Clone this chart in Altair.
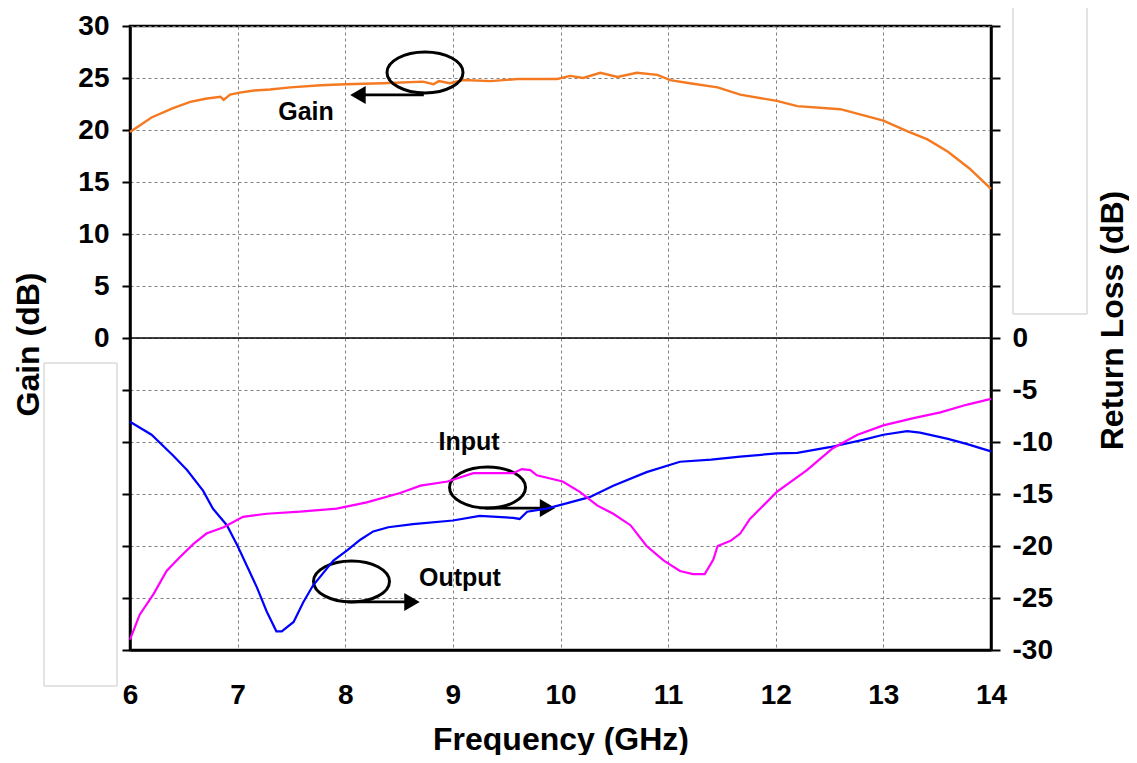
import altair as alt
import pandas as pd

# ---- data ----
gain_f = [6.0, 6.2, 6.4, 6.56, 6.7, 6.84, 6.87, 6.93, 7.02, 7.15, 7.3, 7.49, 7.77, 8.0, 8.35,
          8.72, 8.82, 8.87, 8.97, 9.1, 9.35, 9.6, 9.97, 10.09, 10.21, 10.37, 10.53, 10.71, 10.9,
          11.02, 11.2, 11.46, 11.67, 12.01, 12.2, 12.6, 13.0, 13.22, 13.41, 13.6, 13.8, 14.0]
gain_db = [19.8, 21.2, 22.1, 22.7, 23.0, 23.2, 22.9, 23.4, 23.6, 23.8, 23.9, 24.1, 24.3, 24.4, 24.5,
           24.65, 24.4, 24.7, 24.5, 24.8, 24.7, 24.9, 24.9, 25.2, 25.0, 25.5, 25.1, 25.5, 25.3,
           24.8, 24.5, 24.1, 23.4, 22.8, 22.3, 22.0, 20.9, 19.9, 19.1, 17.9, 16.3, 14.35]

out_f = [6.0, 6.2, 6.4, 6.53, 6.68, 6.77, 6.9, 7.0, 7.18, 7.27, 7.36, 7.41, 7.52, 7.61, 7.70,
         7.89, 8.02, 8.14, 8.26, 8.4, 8.63, 9.0, 9.25, 9.56, 9.62, 9.69, 9.87, 10.02, 10.27,
         10.49, 10.8, 11.11, 11.4, 11.67, 12.01, 12.2, 12.5, 12.81, 13.0, 13.22, 13.34, 13.6,
         13.78, 14.0]
out_db = [-8.05, -9.3, -11.3, -12.7, -14.7, -16.4, -18.0, -20.0, -24.0, -26.3, -28.2, -28.2, -27.3,
          -25.4, -23.8, -21.4, -20.4, -19.4, -18.6, -18.2, -17.9, -17.55, -17.1, -17.3, -17.4,
          -16.7, -16.4, -16.0, -15.3, -14.2, -12.9, -11.9, -11.7, -11.4, -11.1, -11.05, -10.5,
          -9.8, -9.3, -8.95, -9.1, -9.7, -10.2, -10.9]

in_f = [6.0, 6.09, 6.22, 6.34, 6.46, 6.59, 6.71, 6.87, 7.05, 7.27, 7.58, 7.92, 8.2, 8.51, 8.7,
        8.95, 9.19, 9.56, 9.64, 9.72, 9.78, 10.02, 10.18, 10.34, 10.49, 10.65, 10.8, 10.96, 11.11,
        11.23, 11.34, 11.42, 11.46, 11.58, 11.67, 11.76, 12.01, 12.29, 12.53, 12.76, 13.0, 13.28,
        13.53, 13.78, 14.0]
in_db = [-29.0, -26.6, -24.6, -22.4, -21.1, -19.8, -18.8, -18.2, -17.2, -16.9, -16.7, -16.4, -15.8,
         -14.9, -14.2, -13.8, -13.0, -13.0, -12.6, -12.7, -13.2, -13.8, -14.8, -16.1, -16.9, -18.0,
         -20.0, -21.4, -22.4, -22.7, -22.7, -21.3, -20.0, -19.5, -18.8, -17.4, -14.8, -12.7, -10.6,
         -9.3, -8.4, -7.7, -7.15, -6.4, -5.85]

x_ticks = [6, 7, 8, 9, 10, 11, 12, 13, 14]
y_ticks = [-30, -25, -20, -15, -10, -5, 0, 5, 10, 15, 20, 25, 30]

# annotations (data coordinates)
ann_text = ["Gain", "Input", "Output"]
ann_text_f = [7.635, 9.15, 9.066]
ann_text_v = [21.73, -10.0, -23.08]
ell_f = [8.741, 9.322, 8.058]
ell_v = [25.53, -14.375, -23.41]
arrow_f = [8.73, 9.30, 8.02]
arrow_f2 = [8.10, 9.90, 8.64]
arrow_v = [23.37, -16.35, -25.38]
head_f = [8.118, 9.88, 8.62]
head_shape = ["triangle-left", "triangle-right", "triangle-right"]

FONT = "Liberation Sans"

gain_df = pd.DataFrame({"f": gain_f, "v": gain_db})
out_df = pd.DataFrame({"f": out_f, "v": out_db})
in_df = pd.DataFrame({"f": in_f, "v": in_db})
txt_df = pd.DataFrame({"f": ann_text_f, "v": ann_text_v, "t": ann_text})
ell_df = pd.DataFrame({"f": ell_f, "v": ell_v})
arr_df = pd.DataFrame({"f": arrow_f, "f2": arrow_f2, "v": arrow_v})
head_df = pd.DataFrame({"f": head_f, "v": arrow_v, "s": head_shape})
one_df = pd.DataFrame({"a": [0]})

x_enc = alt.X(
    "f:Q",
    scale=alt.Scale(domain=[6, 14], nice=False, zero=False),
    axis=alt.Axis(values=x_ticks, grid=True, ticks=False, tickSize=0, labelPadding=53,
                  labelFlush=False, labelBaseline="alphabetic", title="Frequency (GHz)",
                  titleY=99, titleBaseline="alphabetic"),
)

left_axis = alt.Axis(values=y_ticks, grid=True, tickSize=8, labelPadding=13,
                     labelExpr="datum.value >= 0 ? datum.label : ''",
                     title="Gain (dB)", titleAngle=270, titleX=-92, titleY=318,
                     titleBaseline="alphabetic")
y_left = alt.Y("v:Q", scale=alt.Scale(domain=[-30, 30], nice=False, zero=False), axis=left_axis)

right_axis = alt.Axis(values=y_ticks, grid=False, tickSize=9, labelPadding=12, orient="right",
                      labelExpr="datum.value <= 0 ? '' + datum.value : ''",
                      title="Return Loss (dB)", titleAngle=270, titleX=131, titleY=294,
                      titleBaseline="alphabetic")
y_right = alt.Y("v:Q", scale=alt.Scale(domain=[-30, 30], nice=False, zero=False), axis=right_axis)

ELLIPSE = ("M-1,0 C-1,-0.294 -0.552,-0.54 0,-0.54 C0.552,-0.54 1,-0.294 1,0 "
           "C1,0.294 0.552,0.54 0,0.54 C-0.552,0.54 -1,0.294 -1,0 Z")

gain_line = alt.Chart(gain_df).mark_line(color="#F47920", strokeWidth=2.4).encode(x=x_enc, y=y_left)
zero_line = alt.Chart(pd.DataFrame({"f": [6, 14], "v": [0, 0]})).mark_line(
    color="black", strokeWidth=1.5).encode(x=x_enc, y=y_left)
texts = alt.Chart(txt_df).mark_text(font=FONT, fontWeight="bold", fontSize=25, color="black").encode(
    x=x_enc, y=y_left, text="t:N")
ellipses = alt.Chart(ell_df).mark_point(shape=ELLIPSE, size=5776, filled=False, color="black",
                                        strokeWidth=3, opacity=1).encode(x=x_enc, y=y_left)
arrows = alt.Chart(arr_df).mark_rule(color="black", strokeWidth=2.8).encode(
    x=x_enc, x2="f2:Q", y=y_left)
heads = alt.Chart(head_df).mark_point(filled=True, color="black", size=320, opacity=1).encode(
    x=x_enc, y=y_left, shape=alt.Shape("s:N", scale=None, legend=None))

box_l = alt.Chart(one_df).mark_rect(fill="white", stroke="#c8c8c8", strokeWidth=1).encode(
    x=alt.value(-86), x2=alt.value(-13), y=alt.value(337), y2=alt.value(660))
box_r = alt.Chart(one_df).mark_rect(fill="white", stroke="#c8c8c8", strokeWidth=1).encode(
    x=alt.value(883), x2=alt.value(957), y=alt.value(-20), y2=alt.value(288))

left = alt.layer(zero_line, gain_line, ellipses, arrows, heads, texts, box_l, box_r)

out_line = alt.Chart(out_df).mark_line(color="#0000FF", strokeWidth=2.2).encode(x=x_enc, y=y_right)
in_line = alt.Chart(in_df).mark_line(color="#FF00FF", strokeWidth=2.2).encode(x=x_enc, y=y_right)
right = alt.layer(out_line, in_line)

chart = alt.layer(left, right).resolve_scale(y="independent").properties(
    width=861, height=624,
    padding={"left": 122, "top": 18, "right": 138, "bottom": 105},
    autosize=alt.AutoSizeParams(type="none"),
    background="white",
).configure_view(stroke="black", strokeWidth=2.5).configure_axis(
    domainColor="black", domainWidth=2.5, tickColor="black", tickWidth=2,
    gridColor="#808080", gridDash=[3, 3], gridWidth=1,
    labelFont=FONT, labelFontSize=28, labelFontWeight="bold", labelColor="black",
    titleFont=FONT, titleFontSize=32, titleFontWeight="bold", titleColor="black",
)

chart.save("out.html", embed_options={"renderer": "svg", "actions": False})
